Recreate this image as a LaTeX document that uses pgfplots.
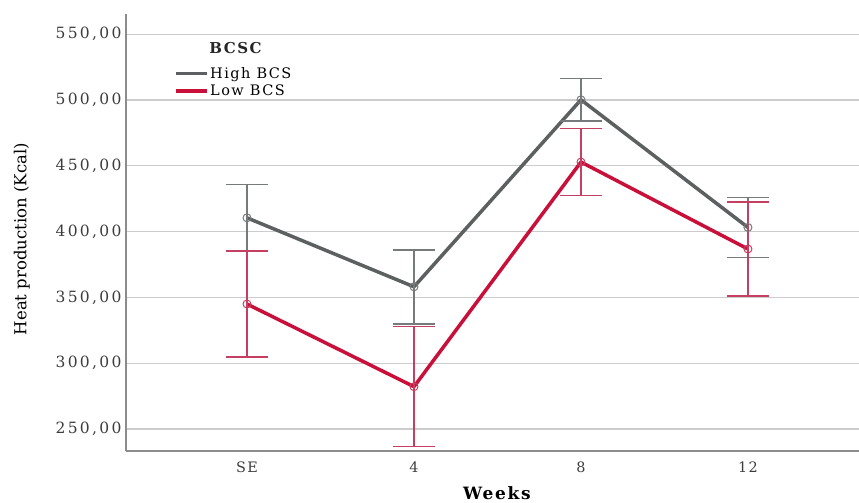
\documentclass[border=0pt]{standalone}
\usepackage{pgfplots}
\pgfplotsset{compat=1.18}
\usepackage{fontspec}
\setmainfont{DejaVu Serif}
\newfontfamily\tickfont[LetterSpace=15]{DejaVu Serif}
\newfontfamily\legfont[LetterSpace=10]{DejaVu Serif}
\definecolor{highc}{RGB}{92,96,96}
\definecolor{lowc}{RGB}{200,16,58}
\definecolor{higherr}{RGB}{118,122,122}
\definecolor{lowerr}{RGB}{196,64,98}
\definecolor{gridc}{RGB}{204,204,204}
\definecolor{axisc}{RGB}{140,140,140}
\definecolor{tickc}{RGB}{60,60,60}

% Mean heat production per week with error bars (half-widths)
\pgfplotstableread{
x  y      e
0  410.5  25.3
1  358.1  28.1
2  500.2  16.1
3  403.2  22.7
}\highbcs
\pgfplotstableread{
x  y      e
0  345.0  40.3
1  282.2  45.6
2  452.9  25.5
3  386.8  35.7
}\lowbcs

\begin{document}
\begin{tikzpicture}
\useasboundingbox (-126pt,-52pt) rectangle (733pt,451pt);
\begin{axis}[
  at={(0pt,0pt)}, anchor=south west,
  width=733pt, height=437pt, scale only axis,
  xmin=-0.7246, xmax=3.665, ymin=233.3, ymax=565.4,
  axis x line=bottom, axis y line=left,
  axis line style={-, draw=axisc, line width=1.4pt},
  xtick={0,1,2,3}, xticklabels={SE,4,8,12},
  ytick={250,300,...,550},
  ymajorgrids, grid style={gridc, line width=1.2pt},
  major tick length=0pt,
  /pgf/number format/assume math mode=true,
  y tick label style={font=\tickfont\fontsize{15.5}{17}\selectfont, text=tickc,
    /pgf/number format/fixed, /pgf/number format/fixed zerofill,
    /pgf/number format/precision=2, /pgf/number format/use comma,
    /pgf/number format/1000 sep={}, xshift=-1pt},
  x tick label style={font=\legfont\fontsize{14.4}{16}\selectfont, text=tickc, yshift=-7pt},
  ylabel={Heat production (Kcal)},
  ylabel style={font=\fontsize{16.5}{18}\selectfont, at={(axis description cs:-0.142,0.485)}, anchor=center},
  xlabel={Weeks},
  xlabel style={font=\bfseries\legfont\fontsize{17}{19}\selectfont, at={(axis description cs:0.506,0)}, anchor=north, inner sep=0pt, yshift=-35pt},
  legend style={at={(rel axis cs:0.0655,0.844)}, anchor=west, draw=none, fill=none,
    inner sep=0pt, row sep=2pt, font=\legfont\fontsize{14.5}{16}\selectfont,
    nodes={inner sep=1.5pt, text=black}},
  legend cell align=left,
  legend image code/.code={\draw[#1, mark=none, line width=3.5pt] (0pt,0pt) -- (31pt,0pt);},
  clip=false,
]
\addplot[highc, line width=3.5pt, line join=round,
  mark=o, mark options={draw=higherr, line width=1pt, fill=none, solid},
  mark size=4pt,
  error bars/.cd, y dir=both, y explicit,
  error bar style={draw=higherr, line width=1.5pt},
  error mark options={rotate=90, draw=higherr, line width=1.5pt, mark size=20.7pt}]
  table[x=x, y=y, y error=e] {\highbcs};
\addlegendentry{High BCS}
\addplot[lowc, line width=3.5pt, line join=round,
  mark=o, mark options={draw=lowerr, line width=1pt, fill=none, solid},
  mark size=4pt,
  error bars/.cd, y dir=both, y explicit,
  error bar style={draw=lowerr, line width=1.5pt},
  error mark options={rotate=90, draw=lowerr, line width=1.5pt, mark size=20.7pt}]
  table[x=x, y=y, y error=e] {\lowbcs};
\addlegendentry{Low BCS}
\node[font=\bfseries\legfont\fontsize{15}{17}\selectfont, text=black!85, anchor=center]
  at (rel axis cs:0.1494,0.922) {BCSC};
\end{axis}
\end{tikzpicture}
\end{document}
